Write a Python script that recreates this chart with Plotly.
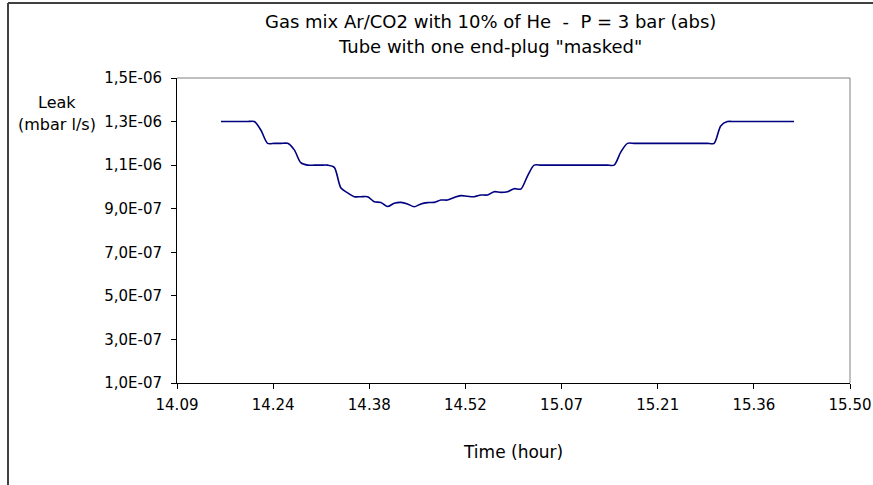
import plotly.graph_objects as go

# Sample times: minutes after 14:09 (one sample per minute)
minutes = [6.6 + k for k in range(87)]

# Leak rate, in units of 1e-6 mbar l/s
leak_e6 = [
    1.30, 1.30, 1.30, 1.30, 1.30, 1.30,            # 6.6 - 11.6
    1.26, 1.20, 1.20, 1.20, 1.20,                  # 12.6 - 16.6
    1.17, 1.11, 1.10, 1.10, 1.10, 1.10,            # 17.6 - 22.6
    1.09, 0.995, 0.973, 0.955, 0.955, 0.955,       # 23.6 - 28.6
    0.932, 0.929, 0.910, 0.925, 0.929, 0.922,      # 29.6 - 34.6
    0.909, 0.922, 0.928, 0.929, 0.940, 0.940,      # 35.6 - 40.6
    0.952, 0.960, 0.957, 0.955, 0.963, 0.963,      # 41.6 - 46.6
    0.978, 0.975, 0.978, 0.992, 0.990, 1.05,       # 47.6 - 52.6
    1.10, 1.10, 1.10, 1.10, 1.10, 1.10,            # 53.6 - 58.6
    1.10, 1.10, 1.10, 1.10, 1.10, 1.10,            # 59.6 - 64.6
    1.10, 1.16, 1.20, 1.20, 1.20, 1.20,            # 65.6 - 70.6
    1.20, 1.20, 1.20, 1.20, 1.20, 1.20,            # 71.6 - 76.6
    1.20, 1.20, 1.20, 1.20, 1.28, 1.30,            # 77.6 - 82.6
    1.30, 1.30, 1.30, 1.30, 1.30, 1.30,            # 83.6 - 88.6
    1.30, 1.30, 1.30, 1.30,                        # 89.6 - 92.6
]
leak = [v * 1e-6 for v in leak_e6]

x_tick_labels = ["14.09", "14.24", "14.38", "14.52", "15.07", "15.21", "15.36", "15.50"]
x_span = 101.0
y_tick_vals = [1e-7, 3e-7, 5e-7, 7e-7, 9e-7, 1.1e-6, 1.3e-6, 1.5e-6]
y_tick_labels = ["1,0E-07", "3,0E-07", "5,0E-07", "7,0E-07", "9,0E-07", "1,1E-06", "1,3E-06", "1,5E-06"]

FONT = "DejaVu Sans, Liberation Sans, Arial, sans-serif"

fig = go.Figure()
fig.add_trace(go.Scatter(
    x=minutes, y=leak, mode="lines",
    line=dict(color="#000080", width=1.6, shape="spline", smoothing=0.8),
    showlegend=False, hoverinfo="skip",
))

PL, PR, PT, PB = 177, 850, 78, 383
W, H = 873, 485

n = len(x_tick_labels)
fig.update_layout(
    width=W, height=H,
    margin=dict(l=PL, r=W - PR, t=PT, b=H - PB, autoexpand=False),
    paper_bgcolor="white", plot_bgcolor="white",
    font=dict(family=FONT, color="black", size=15),
    xaxis=dict(
        range=[0, x_span], showgrid=False, zeroline=False,
        tickvals=[i * x_span / (n - 1) for i in range(n)], ticktext=x_tick_labels,
        ticks="outside", ticklen=5, tickcolor="black", tickwidth=1,
        showline=True, linecolor="black", linewidth=1,
        tickfont=dict(size=15, family=FONT), ticklabelstandoff=3,
    ),
    yaxis=dict(
        range=[1e-7, 1.5e-6], showgrid=False, zeroline=False,
        tickvals=y_tick_vals, ticktext=y_tick_labels,
        ticks="outside", ticklen=5, tickcolor="black", tickwidth=1,
        showline=True, linecolor="black", linewidth=1,
        tickfont=dict(size=15, family=FONT), ticklabelstandoff=6,
    ),
)

# Plot-area border (top & right, gray)
fig.add_shape(type="line", xref="paper", yref="paper", x0=0, x1=1, y0=1, y1=1,
              line=dict(color="#808080", width=1))
fig.add_shape(type="line", xref="paper", yref="paper", x0=1, x1=1, y0=0, y1=1,
              line=dict(color="#808080", width=1))

# Outer chart frame (left and top edges visible)
def px_x(p):
    return (p - PL) / float(PR - PL)

def px_y(p):
    return (PB - p) / float(PB - PT)

fig.add_shape(type="line", xref="paper", yref="paper",
              x0=px_x(8), x1=px_x(8), y0=px_y(3), y1=px_y(490),
              line=dict(color="#404040", width=2))
fig.add_shape(type="line", xref="paper", yref="paper",
              x0=px_x(8), x1=px_x(880), y0=px_y(3), y1=px_y(3),
              line=dict(color="#404040", width=2))

# Titles
fig.add_annotation(xref="paper", yref="paper", x=px_x(490), y=px_y(21),
                   text="Gas mix Ar/CO2 with 10% of He  -  P = 3 bar (abs)",
                   showarrow=False, font=dict(size=18, family=FONT),
                   xanchor="center", yanchor="middle")
fig.add_annotation(xref="paper", yref="paper", x=px_x(490), y=px_y(47),
                   text="Tube with one end-plug \"masked\"",
                   showarrow=False, font=dict(size=18, family=FONT),
                   xanchor="center", yanchor="middle")
fig.add_annotation(xref="paper", yref="paper", x=px_x(57), y=px_y(102),
                   text="Leak", showarrow=False,
                   font=dict(size=16, family=FONT), xanchor="center", yanchor="middle")
fig.add_annotation(xref="paper", yref="paper", x=px_x(57), y=px_y(124),
                   text="(mbar l/s)", showarrow=False,
                   font=dict(size=16, family=FONT), xanchor="center", yanchor="middle")
fig.add_annotation(xref="paper", yref="paper", x=px_x(513), y=px_y(452),
                   text="Time (hour)", showarrow=False,
                   font=dict(size=17, family=FONT), xanchor="center", yanchor="middle")

fig.write_html("out.html", post_script="document.body.style.margin='0';",
               config={"displayModeBar": False})
